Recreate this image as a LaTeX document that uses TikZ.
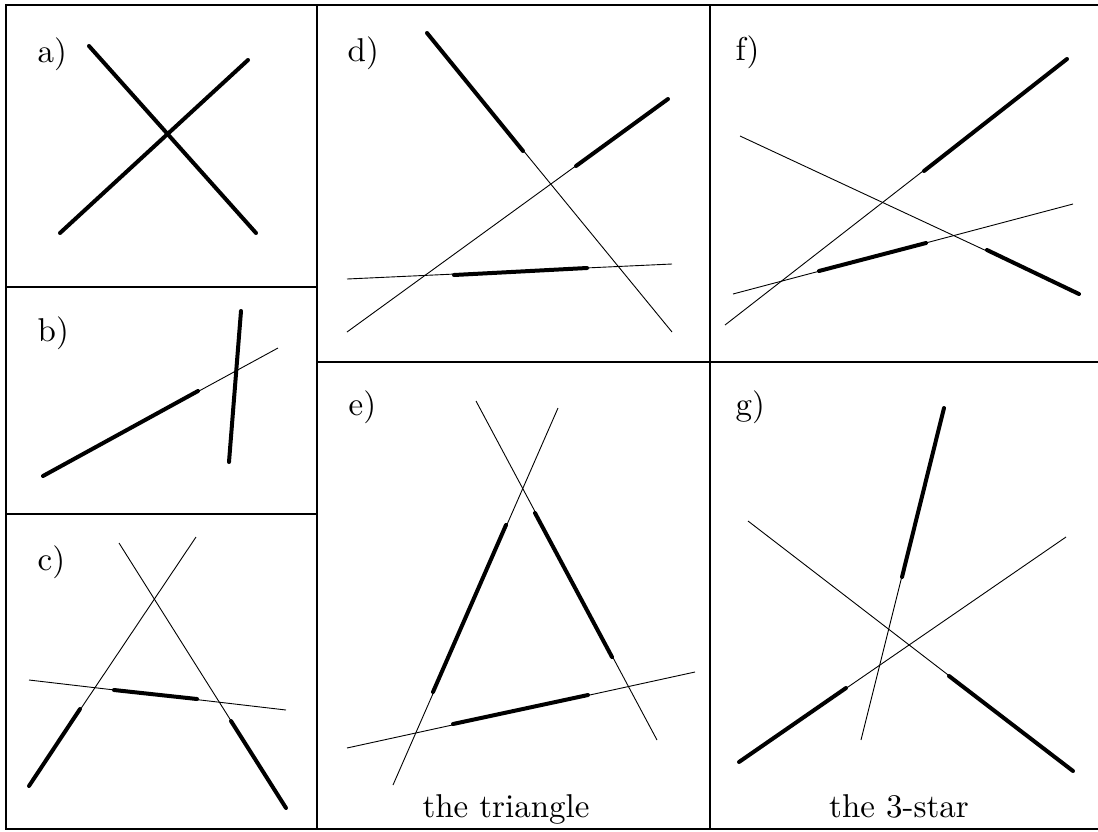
\documentclass[tikz,border=0pt]{standalone}
\begin{document}
\begin{tikzpicture}[x=1pt,y=-1pt,
  frameline/.style={line width=2pt},
  thinline/.style={line width=0.9pt},
  thickline/.style={line width=4pt,line cap=round},
  lbl/.style={anchor=base west,inner sep=0pt,font=\fontsize{10}{12}\selectfont,scale=3.3},
  captext/.style={anchor=base,inner sep=0pt,font=\fontsize{10}{12}\selectfont,scale=3.3}]
\useasboundingbox (0,0) rectangle (1098,831);
% frame
\coordinate (tl) at (6,5); \coordinate (tr) at (1098,5);
\coordinate (bl) at (6,829); \coordinate (br) at (1098,829);
\draw[frameline] (tr) -- (tl) -- (bl) -- (br);
\coordinate (v1t) at (317,5); \coordinate (v1b) at (317,829);
\coordinate (v2t) at (710,5); \coordinate (v2b) at (710,829);
\draw[frameline] (v1t) -- (v1b);
\draw[frameline] (v2t) -- (v2b);
\coordinate (h1l) at (6,287); \coordinate (h1r) at (317,287);
\coordinate (h2l) at (6,514); \coordinate (h2r) at (317,514);
\coordinate (h3l) at (317,362); \coordinate (h3r) at (1098,362);
\draw[frameline] (h1l) -- (h1r);
\draw[frameline] (h2l) -- (h2r);
\draw[frameline] (h3l) -- (h3r);
% labels
\node[lbl] (la) at (37,62) {a)};
\node[lbl] (lb) at (37,341) {b)};
\node[lbl] (lc) at (37,570) {c)};
\node[lbl] (ld) at (347,61) {d)};
\node[lbl] (le) at (348,415) {e)};
\node[lbl] (lf) at (735,60) {f)};
\node[lbl] (lg) at (735,415) {g)};
\node[captext] (ce) at (506,817) {the triangle};
\node[captext] (cg) at (899,817) {the 3-star};
% panel a
\coordinate (a1) at (89,46); \coordinate (a2) at (256,233);
\coordinate (a3) at (60,233); \coordinate (a4) at (248,60);
\draw[thickline] (a1) -- (a2);
\draw[thickline] (a3) -- (a4);
% panel b
\coordinate (b1) at (43,476); \coordinate (b1m) at (198,391); \coordinate (b2) at (278,348);
\coordinate (b3) at (241,311); \coordinate (b4) at (229,462);
\draw[thinline] (b1) -- (b2);
\draw[thickline] (b1) -- (b1m);
\draw[thickline] (b3) -- (b4);
% panel c
\coordinate (c1) at (29,786); \coordinate (c1m) at (80,709); \coordinate (c2) at (196,537);
\coordinate (c3) at (119,543); \coordinate (c3m) at (231,721); \coordinate (c4) at (286,808);
\coordinate (c5) at (29,680); \coordinate (c6) at (286,710);
\coordinate (c5a) at (114,690); \coordinate (c5b) at (197,699);
\draw[thinline] (c1) -- (c2);
\draw[thickline] (c1) -- (c1m);
\draw[thinline] (c3) -- (c4);
\draw[thickline] (c3m) -- (c4);
\draw[thinline] (c5) -- (c6);
\draw[thickline] (c5a) -- (c5b);
% panel d
\coordinate (d1) at (427,33); \coordinate (d1m) at (523,151); \coordinate (d2) at (672,332);
\coordinate (d3) at (347,332); \coordinate (d3m) at (576,166); \coordinate (d4) at (668,99);
\coordinate (d5) at (347,279); \coordinate (d6) at (672,264);
\coordinate (d5a) at (454,275); \coordinate (d5b) at (587,268);
\draw[thinline] (d1) -- (d2);
\draw[thickline] (d1) -- (d1m);
\draw[thinline] (d3) -- (d4);
\draw[thickline] (d3m) -- (d4);
\draw[thinline] (d5) -- (d6);
\draw[thickline] (d5a) -- (d5b);
% panel f
\coordinate (f1) at (725,325); \coordinate (f1m) at (924,171); \coordinate (f2) at (1067,59);
\coordinate (f3) at (740,136); \coordinate (f3m) at (987,250); \coordinate (f4) at (1079,294);
\coordinate (f5) at (733,294); \coordinate (f6) at (1073,204);
\coordinate (f5a) at (819,271); \coordinate (f5b) at (926,243);
\draw[thinline] (f1) -- (f2);
\draw[thickline] (f1m) -- (f2);
\draw[thinline] (f3) -- (f4);
\draw[thickline] (f3m) -- (f4);
\draw[thinline] (f5) -- (f6);
\draw[thickline] (f5a) -- (f5b);
% panel e
\coordinate (e1) at (393,785); \coordinate (e2) at (558,408);
\coordinate (e1a) at (433,692); \coordinate (e1b) at (506,525);
\coordinate (e3) at (476,401); \coordinate (e4) at (657,740);
\coordinate (e3a) at (535,513); \coordinate (e3b) at (612,657);
\coordinate (e5) at (347,748); \coordinate (e6) at (695,672);
\coordinate (e5a) at (453,724); \coordinate (e5b) at (588,695);
\draw[thinline] (e1) -- (e2);
\draw[thickline] (e1a) -- (e1b);
\draw[thinline] (e3) -- (e4);
\draw[thickline] (e3a) -- (e3b);
\draw[thinline] (e5) -- (e6);
\draw[thickline] (e5a) -- (e5b);
% panel g
\coordinate (g1) at (944,408); \coordinate (g1m) at (902,577); \coordinate (g2) at (861,740);
\coordinate (g3) at (748,521); \coordinate (g3m) at (949,676); \coordinate (g4) at (1073,771);
\coordinate (g5) at (739,762); \coordinate (g5m) at (846,688); \coordinate (g6) at (1066,537);
\draw[thinline] (g1) -- (g2);
\draw[thickline] (g1) -- (g1m);
\draw[thinline] (g3) -- (g4);
\draw[thickline] (g3m) -- (g4);
\draw[thinline] (g5) -- (g6);
\draw[thickline] (g5) -- (g5m);
\end{tikzpicture}
\end{document}
